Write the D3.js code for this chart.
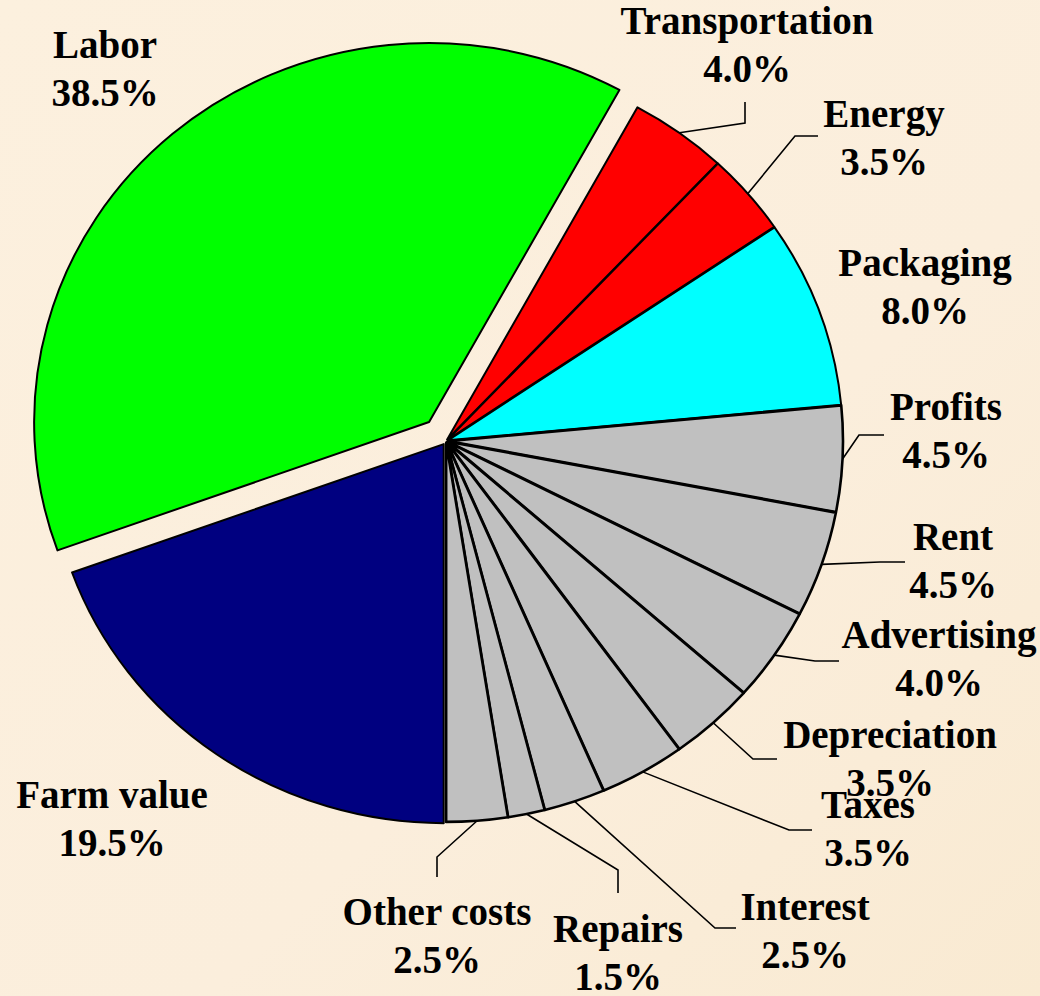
<!DOCTYPE html>
<html lang="en">

<head>
    <meta charset="UTF-8">
    <title>Marketing bill breakdown</title>
    <script src="https://cdn.jsdelivr.net/npm/d3@7"></script>
    <style>
        * {
            margin: 0;
            padding: 0;
        }

        body {
            background: #fcefdd;
        }

        text.lbl {
            font-family: "Liberation Serif", "Times New Roman", serif;
            font-weight: bold;
            font-size: 39px;
            fill: #000;
        }
    </style>
</head>

<body>
    <div id="chart"></div>
    <script>
        // data, clockwise from 6 o'clock
        const categories = ['Farm value', 'Labor', 'Transportation', 'Energy', 'Packaging', 'Profits', 'Rent',
            'Advertising', 'Depreciation', 'Taxes', 'Interest', 'Repairs', 'Other costs'];
        const shares = [19.5, 38.5, 4.0, 3.5, 8.0, 4.5, 4.5, 4.0, 3.5, 3.5, 2.5, 1.5, 2.5];
        const pctLabels = ['19.5%', '38.5%', '4.0%', '3.5%', '8.0%', '4.5%', '4.5%', '4.0%', '3.5%', '3.5%', '2.5%', '1.5%', '2.5%'];

        const svgWidth = 1040;
        const svgHeight = 996;

        // pie is slightly squashed vertically
        const cx = 446, cy = 441;
        const radius = 395;
        const ky = 379 / 395;
        const lineGap = 48;

        const colorOf = {
            'Farm value': '#000080',
            'Labor': '#00ff00',
            'Transportation': '#ff0000',
            'Energy': '#ff0000',
            'Packaging': '#00ffff'
        };
        const explodeOf = { 'Labor': 26, 'Farm value': 4 };

        // label placement: centre x, first baseline, leader elbow points
        const labelPos = {
            'Farm value': { x: 112, y: 808, leader: null },
            'Labor': { x: 105, y: 58, leader: null },
            'Transportation': { x: 747, y: 34, leader: [[745, 123], [745, 102]] },
            'Energy': { x: 884, y: 127, leader: [[795, 136], [818, 136]] },
            'Packaging': { x: 925, y: 276, leader: null },
            'Profits': { x: 946, y: 420, leader: [[859, 435], [884, 435]] },
            'Rent': { x: 953, y: 550, leader: [[880, 562], [905, 562]] },
            'Advertising': { x: 939, y: 648, leader: [[815, 661], [839, 661]] },
            'Depreciation': { x: 890, y: 748, leader: [[753, 759], [777, 759]] },
            'Taxes': { x: 868, y: 818, leader: [[789, 830], [812, 830]] },
            'Interest': { x: 805, y: 920, leader: [[715, 928], [736, 928]] },
            'Repairs': { x: 618, y: 942, leader: [[618, 870], [618, 893]] },
            'Other costs': { x: 437, y: 925, leader: [[437, 857], [437, 877]] }
        };

        const data = categories.map((c, i) => ({ name: c, value: shares[i], pct: pctLabels[i] }));

        const svg = d3.select('#chart')
            .append('svg')
            .attr('width', svgWidth)
            .attr('height', svgHeight);

        // soft parchment background
        const defs = svg.append('defs');
        const bg = defs.append('linearGradient').attr('id', 'bg')
            .attr('x1', 0).attr('y1', 0).attr('x2', 1).attr('y2', 1);
        bg.append('stop').attr('offset', '0%').attr('stop-color', '#fcf0de');
        bg.append('stop').attr('offset', '60%').attr('stop-color', '#fbeedc');
        bg.append('stop').attr('offset', '100%').attr('stop-color', '#f9ead2');
        svg.append('rect').attr('width', svgWidth).attr('height', svgHeight).attr('fill', 'url(#bg)');

        const pie = d3.pie()
            .sort(null)
            .value(d => d.value)
            .startAngle(Math.PI)
            .endAngle(3 * Math.PI);

        const arc = d3.arc().innerRadius(0).outerRadius(radius);
        const arcs = pie(data);

        const midOf = d => (d.startAngle + d.endAngle) / 2;
        const explode = d => explodeOf[d.data.name] !== undefined ? explodeOf[d.data.name] : 2;

        const pieG = svg.append('g')
            .attr('transform', `translate(${cx},${cy}) scale(1,${ky})`);

        pieG.selectAll('path')
            .data(arcs)
            .enter()
            .append('path')
            .attr('d', arc)
            .attr('transform', d => {
                const a = midOf(d), e = explode(d);
                return `translate(${e * Math.sin(a)},${-e * Math.cos(a)})`;
            })
            .attr('fill', d => colorOf[d.data.name] || '#c0c0c0')
            .attr('stroke', '#000')
            .attr('stroke-width', d => colorOf[d.data.name] ? 2 : 2.6)
            .attr('stroke-linejoin', 'round')
            .attr('vector-effect', 'non-scaling-stroke');

        // leader lines start on the outer edge at mid angle
        const edgePoint = d => {
            const a = midOf(d), r = radius + explode(d);
            return [cx + r * Math.sin(a), cy - r * Math.cos(a) * ky];
        };

        svg.append('g')
            .selectAll('polyline')
            .data(arcs.filter(d => labelPos[d.data.name].leader))
            .enter()
            .append('polyline')
            .attr('points', d => [edgePoint(d)].concat(labelPos[d.data.name].leader).map(p => p.join(',')).join(' '))
            .attr('fill', 'none')
            .attr('stroke', '#000')
            .attr('stroke-width', 1.6);

        const labels = svg.append('g')
            .selectAll('g')
            .data(arcs)
            .enter()
            .append('g');

        labels.append('text')
            .attr('class', 'lbl')
            .attr('text-anchor', 'middle')
            .attr('x', d => labelPos[d.data.name].x)
            .attr('y', d => labelPos[d.data.name].y)
            .text(d => d.data.name);

        labels.append('text')
            .attr('class', 'lbl')
            .attr('text-anchor', 'middle')
            .attr('x', d => labelPos[d.data.name].x)
            .attr('y', d => labelPos[d.data.name].y + lineGap)
            .text(d => d.data.pct);
    </script>
</body>

</html>
